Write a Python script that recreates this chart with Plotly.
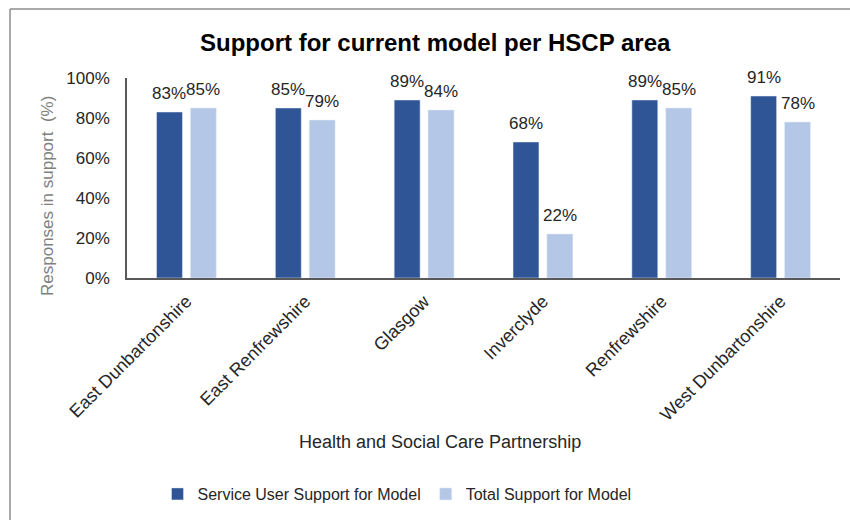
import plotly.graph_objects as go

areas = ["East Dunbartonshire", "East Renfrewshire", "Glasgow",
         "Inverclyde", "Renfrewshire", "West Dunbartonshire"]
service_user = [83, 85, 89, 68, 89, 91]
total_support = [85, 79, 84, 22, 85, 78]
y_ticks = [0, 20, 40, 60, 80, 100]
y_tick_labels = [f"{v}%" for v in y_ticks]

FONT = "Liberation Sans, Arial, sans-serif"
DARK = "#2F5597"
LIGHT = "#B4C7E7"

# plot area geometry in pixels (used to place frame and labels)
W, H = 850, 520
L, R, T, B = 127, 10, 78, 242
pw, ph = W - L - R, H - T - B


def px_x(x):
    return (x - L) / pw


def px_y(y):
    return (H - B - y) / ph


fig = go.Figure()
fig.add_bar(x=areas, y=service_user, name="Service User Support for Model",
            marker_color=DARK)
fig.add_bar(x=areas, y=total_support, name="Total Support for Model",
            marker_color=LIGHT)

# value labels above each bar, offset to the left/right bar of the pair
for values, dx in ((service_user, -17), (total_support, 17)):
    for area, v in zip(areas, values):
        fig.add_annotation(x=area, y=v, text=f"{v}%", showarrow=False,
                           xshift=dx, yshift=19, xanchor="center",
                           yanchor="middle",
                           font=dict(size=17, color="#262626", family=FONT))

fig.update_layout(
    width=W, height=H,
    margin=dict(l=L, r=R, t=T, b=B),
    paper_bgcolor="white", plot_bgcolor="white",
    barmode="group", bargap=0.43, bargroupgap=0.235,
    font=dict(family=FONT, color="#404040"),
    showlegend=True,
    legend=dict(orientation="h", x=px_x(397), xanchor="center",
                y=px_y(494), yanchor="middle",
                font=dict(size=16, color="#262626"),
                itemwidth=30, traceorder="normal"),
    xaxis=dict(showline=True, linecolor="#595959", linewidth=1.5,
               tickangle=-45, tickfont=dict(size=18, color="#262626"),
               ticks="", showgrid=False, ticklabelstandoff=4),
    yaxis=dict(range=[0, 100], tickvals=y_ticks, ticktext=y_tick_labels,
               showline=True, linecolor="#595959", linewidth=1.5,
               tickfont=dict(size=17, color="#262626"),
               showgrid=False, zeroline=False, ticks="",
               ticklabelstandoff=12),
)

fig.add_annotation(text="<b>Support for current model per HSCP area</b>",
                   xref="paper", yref="paper", x=px_x(435), y=px_y(42),
                   xanchor="center", yanchor="middle",
                   showarrow=False, font=dict(size=24, color="#000000"))
fig.add_annotation(text="Responses in support  (%)",
                   xref="paper", yref="paper", x=px_x(47), y=px_y(196),
                   xanchor="center", yanchor="middle",
                   textangle=-90, showarrow=False,
                   font=dict(size=17, color="#808080"))
fig.add_annotation(text="Health and Social Care Partnership",
                   xref="paper", yref="paper", x=px_x(440), y=px_y(442),
                   xanchor="center", yanchor="middle",
                   showarrow=False, font=dict(size=18, color="#262626"))

# outer frame (left and top edges)
fig.add_shape(type="line", xref="paper", yref="paper",
              x0=px_x(10), x1=px_x(10), y0=px_y(9), y1=px_y(530),
              line=dict(color="#8c8c8c", width=1.5))
fig.add_shape(type="line", xref="paper", yref="paper",
              x0=px_x(10), x1=px_x(860), y0=px_y(9), y1=px_y(9),
              line=dict(color="#8c8c8c", width=1.5))

fig.write_html("out.html")
